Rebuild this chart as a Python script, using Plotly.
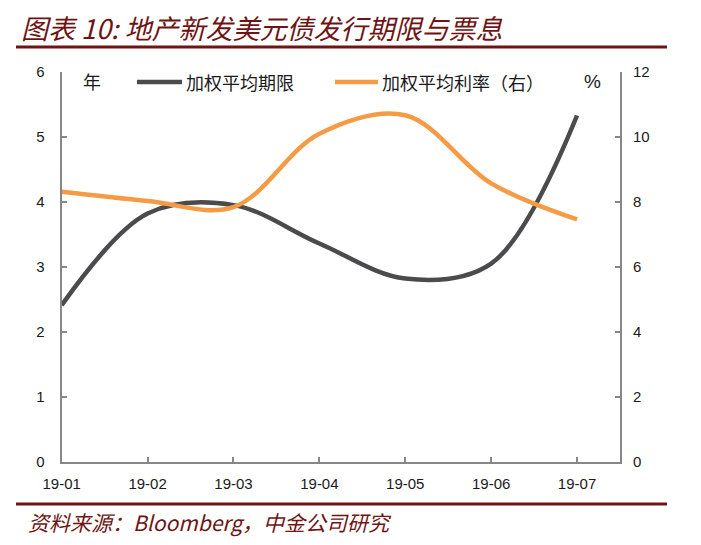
import plotly.graph_objects as go

categories = ["19-01", "19-02", "19-03", "19-04", "19-05", "19-06", "19-07"]
maturity = [2.41, 3.82, 3.95, 3.36, 2.82, 3.05, 5.33]
rate = [8.31, 8.03, 7.84, 10.1, 10.67, 8.57, 7.46]
left_ticks = [0, 1, 2, 3, 4, 5, 6]
right_ticks = [0, 2, 4, 6, 8, 10, 12]
series_names = ["加权平均期限", "加权平均利率（右）"]
series_colors = ["#4B4B4D", "#F59B45"]

# page body has an 8px margin, so work in reference coords minus 8
OFF = 8
W, H = 701 - OFF, 545 - OFF


def px(x):
    return (x - OFF) / W


def py(y):
    return 1 - (y - OFF) / H


x0, x1 = 61.7, 620
y0, y1 = 72, 461.7

dark_red = "#6E1414"
axis_gray = "#878787"
num_font = dict(family="Liberation Sans, Arial", size=15, color="#1a1a1a")
cjk = "Noto Sans CJK SC"

fig = go.Figure()
fig.add_trace(go.Scatter(
    x=categories, y=maturity, name=series_names[0], mode="lines",
    line=dict(color=series_colors[0], width=4.5, shape="spline", smoothing=1.0),
    yaxis="y", showlegend=False))
fig.add_trace(go.Scatter(
    x=categories, y=rate, name=series_names[1], mode="lines",
    line=dict(color=series_colors[1], width=4.5, shape="spline", smoothing=1.0),
    yaxis="y2", showlegend=False))

fig.update_layout(
    width=W, height=H,
    margin=dict(l=0, r=0, t=0, b=0),
    paper_bgcolor="white", plot_bgcolor="white",
    showlegend=False,
    xaxis=dict(
        type="category", range=[0, 6.5],
        domain=[px(x0), px(x1)],
        showline=True, linecolor=axis_gray, linewidth=2,
        ticks="inside", ticklen=5, tickcolor=axis_gray, tickwidth=1.5,
        showgrid=False, zeroline=False, tickfont=num_font, automargin=False,
        ticklabelstandoff=7),
    yaxis=dict(
        range=[0, 6], tickvals=left_ticks,
        domain=[py(y1), py(y0)],
        showline=True, linecolor=axis_gray, linewidth=2,
        ticks="inside", ticklen=5, tickcolor=axis_gray, tickwidth=1.5,
        showgrid=False, zeroline=False, tickfont=num_font, automargin=False,
        ticklabelstandoff=12),
    yaxis2=dict(
        range=[0, 12], tickvals=right_ticks, overlaying="y", side="right",
        anchor="x",
        showline=True, linecolor=axis_gray, linewidth=2,
        ticks="inside", ticklen=5, tickcolor=axis_gray, tickwidth=1.5,
        showgrid=False, zeroline=False, tickfont=num_font, automargin=False,
        ticklabelstandoff=8),
)

# legend (manual)
leg_y = 82
for (lx0, lx1, tx), name, col in zip([(137, 182, 184), (335, 378, 380)], series_names, series_colors):
    fig.add_shape(type="line", xref="paper", yref="paper", x0=px(lx0), x1=px(lx1),
                  y0=py(leg_y), y1=py(leg_y), line=dict(color=col, width=4.5))
    fig.add_annotation(x=px(tx), y=py(leg_y), xref="paper", yref="paper", xanchor="left", yanchor="middle",
                       text=name, showarrow=False, font=dict(family=cjk, size=18, color="#1a1a1a"))

# title, source, rules, unit labels
fig.add_annotation(x=px(20), y=py(28), xref="paper", yref="paper", xanchor="left", yanchor="middle",
                   text="<i>图表 10: 地产新发美元债发行期限与票息</i>", showarrow=False, borderpad=0,
                   font=dict(family=cjk, size=27, color=dark_red))
fig.add_annotation(x=px(26), y=py(522), xref="paper", yref="paper", xanchor="left", yanchor="middle",
                   text="<i>资料来源：Bloomberg，中金公司研究</i>", showarrow=False,
                   font=dict(family=cjk, size=21, color=dark_red))
fig.add_annotation(x=px(92), y=py(81), xref="paper", yref="paper", xanchor="center", yanchor="middle",
                   text="年", showarrow=False, font=dict(family=cjk, size=18, color="#1a1a1a"))
fig.add_annotation(x=px(592), y=py(82), xref="paper", yref="paper", xanchor="center", yanchor="middle",
                   text="%", showarrow=False, font=dict(family="Liberation Sans, Arial", size=19, color="#1a1a1a"))
for yy in (47, 504):
    fig.add_shape(type="line", xref="paper", yref="paper", x0=px(16), x1=px(667),
                  y0=py(yy), y1=py(yy), line=dict(color=dark_red, width=3))

fig.write_html("out.html")
